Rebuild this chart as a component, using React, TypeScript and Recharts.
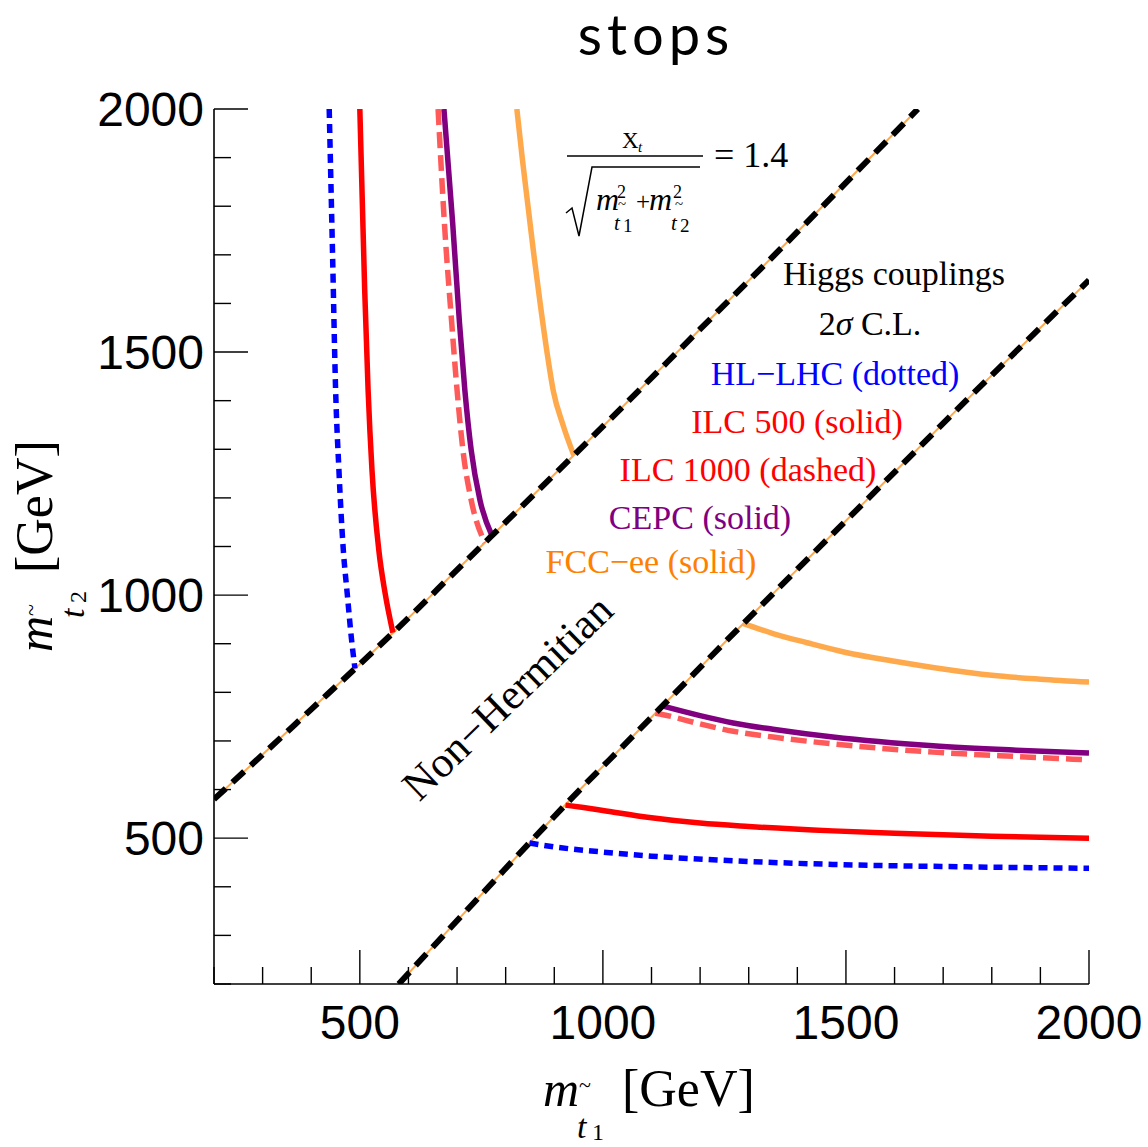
import { LineChart, Line, XAxis, YAxis } from 'recharts';

// stop mass grid ticks (GeV)
const TICKS = [200, 300, 400, 500, 600, 700, 800, 900, 1000, 1100, 1200, 1300, 1400, 1500, 1600, 1700, 1800, 1900, 2000];

// Non-Hermitian boundaries
const upperBoundary = [
  { x: 200, y: 580 }, { x: 300, y: 672 }, { x: 400, y: 765 }, { x: 500, y: 858 },
  { x: 600, y: 953 }, { x: 700, y: 1052 }, { x: 800, y: 1150 }, { x: 900, y: 1248 },
  { x: 1000, y: 1347 }, { x: 1200, y: 1547 }, { x: 1400, y: 1747 }, { x: 1648, y: 2000 },
];
const lowerBoundary = [
  { x: 580, y: 200 }, { x: 672, y: 300 }, { x: 765, y: 400 }, { x: 858, y: 500 },
  { x: 953, y: 600 }, { x: 1052, y: 700 }, { x: 1150, y: 800 }, { x: 1248, y: 900 },
  { x: 1347, y: 1000 }, { x: 1547, y: 1200 }, { x: 1747, y: 1400 }, { x: 2000, y: 1648 },
];

// HL-LHC (dotted)
const hllhcUpper = [
  { x: 437, y: 2000 }, { x: 444, y: 1696 }, { x: 450, y: 1428 }, { x: 457, y: 1257 },
  { x: 466, y: 1093 }, { x: 474, y: 1004 }, { x: 483, y: 908 }, { x: 490, y: 849 },
];
const hllhcLower = [
  { x: 849, y: 490 }, { x: 900, y: 482 }, { x: 994, y: 472 }, { x: 1100, y: 463 },
  { x: 1235, y: 455 }, { x: 1473, y: 446 }, { x: 1749, y: 441 }, { x: 2000, y: 438 },
];

// ILC 500 (solid)
const ilc500Upper = [
  { x: 500, y: 2000 }, { x: 505, y: 1813 }, { x: 510, y: 1628 }, { x: 517, y: 1422 },
  { x: 525, y: 1257 }, { x: 539, y: 1093 }, { x: 552, y: 1004 }, { x: 568, y: 923 },
];
const ilc500Lower = [
  { x: 923, y: 568 }, { x: 960, y: 563 }, { x: 1000, y: 557 }, { x: 1100, y: 542 },
  { x: 1200, y: 531 }, { x: 1300, y: 524 }, { x: 1473, y: 515 }, { x: 1600, y: 510 },
  { x: 1800, y: 504 }, { x: 2000, y: 500 },
];

// ILC 1000 (dashed)
const ilc1000Upper = [
  { x: 661, y: 2000 }, { x: 674, y: 1765 }, { x: 689, y: 1560 }, { x: 700, y: 1422 },
  { x: 712, y: 1299 }, { x: 729, y: 1196 }, { x: 757, y: 1108 },
];
const ilc1000Lower = [
  { x: 1108, y: 757 }, { x: 1124, y: 754 }, { x: 1200, y: 735 }, { x: 1268, y: 720 },
  { x: 1350, y: 708 }, { x: 1473, y: 694 }, { x: 1679, y: 677 }, { x: 1850, y: 668 }, { x: 2000, y: 661 },
];

// CEPC (solid)
const cepcUpper = [
  { x: 673, y: 2000 }, { x: 691, y: 1765 }, { x: 705, y: 1560 }, { x: 716, y: 1422 },
  { x: 729, y: 1299 }, { x: 747, y: 1196 }, { x: 772, y: 1122 },
];
const cepcLower = [
  { x: 1122, y: 772 }, { x: 1200, y: 752 }, { x: 1268, y: 737 }, { x: 1350, y: 724 },
  { x: 1473, y: 708 }, { x: 1679, y: 690 }, { x: 1850, y: 681 }, { x: 2000, y: 675 },
];

// FCC-ee (solid)
const fccUpper = [
  { x: 823, y: 2000 }, { x: 834, y: 1900 }, { x: 846, y: 1800 }, { x: 858, y: 1700 },
  { x: 871, y: 1600 }, { x: 885, y: 1500 }, { x: 898, y: 1420 }, { x: 918, y: 1350 }, { x: 940, y: 1288 },
];
const fccLower = [
  { x: 1288, y: 942 }, { x: 1350, y: 921 }, { x: 1420, y: 902 }, { x: 1500, y: 882 },
  { x: 1600, y: 864 }, { x: 1700, y: 848 }, { x: 1800, y: 835 }, { x: 1900, y: 827 }, { x: 2000, y: 821 },
];

const SANS = '"Liberation Sans", Arial, Helvetica, sans-serif';
const SERIF = '"Liberation Serif", "Times New Roman", serif';

const isMajor = (v: number) => v % 500 === 0;

function BottomTick({ x, y, payload }: any) {
  const v = payload.value;
  return (
    <g>
      <line x1={x} x2={x} y1={y} y2={y - (isMajor(v) ? 34 : 17)} stroke="#000" strokeWidth={1.4} />
      {isMajor(v) && (
        <text x={x} y={y + 55} textAnchor="middle" fontFamily={SANS} fontSize={48} fill="#000">
          {v}
        </text>
      )}
    </g>
  );
}

function TopTick({ x, y, payload }: any) {
  const v = payload.value;
  return <line x1={x} x2={x} y1={y} y2={y + (isMajor(v) ? 34 : 17)} stroke="#000" strokeWidth={1.4} />;
}

function LeftTick({ x, y, payload }: any) {
  const v = payload.value;
  return (
    <g>
      <line x1={x} x2={x + (isMajor(v) ? 34 : 17)} y1={y} y2={y} stroke="#000" strokeWidth={1.4} />
      {isMajor(v) && (
        <text x={x - 10} y={y + 17} textAnchor="end" fontFamily={SANS} fontSize={48} fill="#000">
          {v}
        </text>
      )}
    </g>
  );
}

function RightTick({ x, y, payload }: any) {
  const v = payload.value;
  return <line x1={x} x2={x - (isMajor(v) ? 34 : 17)} y1={y} y2={y} stroke="#000" strokeWidth={1.4} />;
}

// m_{t~_i} [GeV] label, drawn from the baseline start of "m"
function MassLabel({ idx }: { idx: string }) {
  return (
    <text fontFamily={SERIF} fill="#000" fontSize={50}>
      <tspan x={0} y={0} fontStyle="italic">m</tspan>
      <tspan x={36} y={-14} fontSize={22}>~</tspan>
      <tspan x={34} y={32} fontSize={34} fontStyle="italic">t</tspan>
      <tspan x={49} y={34} fontSize={24}>{idx}</tspan>
      <tspan x={79} y={0} fontSize={52}>[GeV]</tspan>
    </text>
  );
}

function Overlay() {
  return (
    <svg
      width={1148}
      height={1147}
      style={{ position: 'absolute', left: 0, top: 0, pointerEvents: 'none' }}
    >
      {/* title */}
      <text x={656} y={55} textAnchor="middle" fontFamily='Lato, "Open Sans", sans-serif' fontSize={56} letterSpacing={5} fill="#000">
        stops
      </text>

      {/* axis titles */}
      <g transform="translate(543,1106)">
        <MassLabel idx="1" />
      </g>
      <g transform="translate(52,652) rotate(-90)">
        <MassLabel idx="2" />
      </g>

      {/* Xt / sqrt(m1^2 + m2^2) = 1.4 */}
      <g fontFamily={SERIF} fill="#000">
        <text fontSize={23}>
          <tspan x={622} y={148}>X</tspan>
          <tspan x={638} y={152} fontSize={15} fontStyle="italic">t</tspan>
        </text>
        <line x1={567} x2={703} y1={156} y2={156} stroke="#000" strokeWidth={1.5} />
        <path d="M566,213 L572,208 L579,236 L592,167 L700,167" fill="none" stroke="#000" strokeWidth={1.5} />
        <text fontSize={32}>
          <tspan x={596} y={210} fontStyle="italic">m</tspan>
          <tspan x={617} y={198} fontSize={18}>2</tspan>
          <tspan x={618} y={209} fontSize={15}>~</tspan>
          <tspan x={614} y={230} fontSize={21} fontStyle="italic">t</tspan>
          <tspan x={623} y={232} fontSize={19}>1</tspan>
          <tspan x={636} y={210} fontSize={25}>+</tspan>
          <tspan x={649} y={210} fontStyle="italic">m</tspan>
          <tspan x={673} y={198} fontSize={18}>2</tspan>
          <tspan x={675} y={209} fontSize={15}>~</tspan>
          <tspan x={671} y={230} fontSize={21} fontStyle="italic">t</tspan>
          <tspan x={680} y={232} fontSize={19}>2</tspan>
        </text>
        <text x={714} y={167} fontSize={36}>= 1.4</text>
      </g>

      {/* legend-like annotations */}
      <g fontFamily={SERIF} fontSize={34} textAnchor="middle">
        <text x={894} y={285} fill="#000">Higgs couplings</text>
        <text x={870} y={335} fill="#000">
          2<tspan fontStyle="italic">σ</tspan> C.L.
        </text>
        <text x={835} y={385} fill="#0000FF">HL−LHC (dotted)</text>
        <text x={797} y={433} fill="#FF0000">ILC 500 (solid)</text>
        <text x={748} y={481} fill="#FF0000">ILC 1000 (dashed)</text>
        <text x={700} y={529} fill="#800080">CEPC (solid)</text>
        <text x={651} y={573} fill="#FF8000">FCC−ee (solid)</text>
      </g>

      <text
        transform="translate(507,697) rotate(-44)"
        x={0}
        y={15}
        textAnchor="middle"
        fontFamily={SERIF}
        fontSize={43}
        fill="#000"
      >
        Non−Hermitian
      </text>
    </svg>
  );
}

export default function App() {
  const common = { isAnimationActive: false, dot: false, activeDot: false, dataKey: 'y' } as const;
  return (
    <div style={{ position: 'absolute', left: 0, top: 0, width: 1148, height: 1147, background: '#fff' }}>
      <LineChart width={1148} height={1147} margin={{ top: 109, right: 59, bottom: 63, left: 0 }}>
        <XAxis
          xAxisId={0}
          type="number"
          dataKey="x"
          domain={[200, 2000]}
          ticks={TICKS}
          allowDataOverflow
          height={100}
          tickSize={0}
          tickMargin={0}
          interval={0}
          axisLine={{ stroke: '#000', strokeWidth: 1.6 }}
          tick={<BottomTick />}
        />
        <XAxis
          xAxisId="top"
          orientation="top"
          type="number"
          dataKey="x"
          domain={[200, 2000]}
          ticks={TICKS}
          allowDataOverflow
          height={0}
          tickSize={0}
          tickMargin={0}
          interval={0}
          axisLine={{ stroke: '#000', strokeWidth: 1.6 }}
          tick={<TopTick />}
        />
        <YAxis
          yAxisId={0}
          type="number"
          domain={[200, 2000]}
          ticks={TICKS}
          allowDataOverflow
          width={214}
          tickSize={0}
          tickMargin={0}
          interval={0}
          axisLine={{ stroke: '#000', strokeWidth: 1.6 }}
          tick={<LeftTick />}
        />
        <YAxis
          yAxisId="right"
          orientation="right"
          type="number"
          domain={[200, 2000]}
          ticks={TICKS}
          allowDataOverflow
          width={0}
          tickSize={0}
          tickMargin={0}
          interval={0}
          axisLine={{ stroke: '#000', strokeWidth: 1.6 }}
          tick={<RightTick />}
        />

        {/* thin FCC-ee trace along the boundaries */}
        <Line {...common} data={upperBoundary} type="monotone" stroke="#FFA94D" strokeWidth={2} />
        <Line {...common} data={lowerBoundary} type="monotone" stroke="#FFA94D" strokeWidth={2} />

        <Line {...common} data={fccUpper} type="monotone" stroke="#FFA94D" strokeWidth={5.5} />
        <Line {...common} data={fccLower} type="monotone" stroke="#FFA94D" strokeWidth={5.5} />
        <Line {...common} data={ilc1000Upper} type="monotone" stroke="#FF5A5A" strokeWidth={5.5} strokeDasharray="16 7" />
        <Line {...common} data={ilc1000Lower} type="monotone" stroke="#FF5A5A" strokeWidth={5.5} strokeDasharray="16 7" />
        <Line {...common} data={cepcUpper} type="monotone" stroke="#800080" strokeWidth={5.5} />
        <Line {...common} data={cepcLower} type="monotone" stroke="#800080" strokeWidth={5.5} />
        <Line {...common} data={ilc500Upper} type="monotone" stroke="#FF0000" strokeWidth={5.5} />
        <Line {...common} data={ilc500Lower} type="monotone" stroke="#FF0000" strokeWidth={5.5} />
        <Line {...common} data={hllhcUpper} type="monotone" stroke="#0000FF" strokeWidth={5.5} strokeDasharray="9 6" />
        <Line {...common} data={hllhcLower} type="monotone" stroke="#0000FF" strokeWidth={5.5} strokeDasharray="9 6" />

        <Line {...common} data={upperBoundary} type="monotone" stroke="#000" strokeWidth={6} strokeDasharray="16 9" />
        <Line {...common} data={lowerBoundary} type="monotone" stroke="#000" strokeWidth={6} strokeDasharray="16 9" />
      </LineChart>
      <Overlay />
    </div>
  );
}
